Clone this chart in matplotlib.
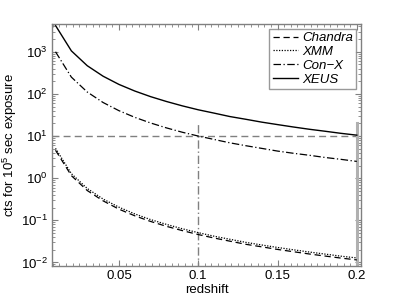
import numpy as np
import matplotlib.pyplot as plt
from matplotlib.ticker import AutoMinorLocator, LogLocator, NullFormatter

plt.rcParams['font.family'] = ['Liberation Sans', 'DejaVu Sans']
plt.rcParams['mathtext.fontset'] = 'custom'
plt.rcParams['mathtext.rm'] = 'Liberation Sans'

# redshift grid and counts
redshift = [0.01, 0.02, 0.03, 0.04, 0.05, 0.06, 0.07, 0.08, 0.09, 0.10,
            0.11, 0.12, 0.13, 0.14, 0.15, 0.16, 0.17, 0.18, 0.19, 0.20]
chandra = [4.6, 1.15, 0.51, 0.29, 0.184, 0.128, 0.094, 0.072, 0.057, 0.046,
           0.038, 0.032, 0.027, 0.0235, 0.0204, 0.018, 0.0159, 0.0142, 0.0127, 0.0115]
xmm = [5.1, 1.28, 0.57, 0.32, 0.205, 0.142, 0.104, 0.080, 0.063, 0.051,
       0.042, 0.0355, 0.030, 0.026, 0.0227, 0.020, 0.0177, 0.0158, 0.0141, 0.0128]
conx = [1000, 250, 111, 62.5, 40, 27.8, 20.4, 15.6, 12.3, 10.0,
        8.3, 6.9, 5.9, 5.1, 4.4, 3.9, 3.5, 3.1, 2.8, 2.5]
xeus = [4200, 1050, 467, 263, 168, 117, 86, 66, 52, 42,
        35, 29, 25, 21.4, 18.7, 16.4, 14.5, 13.0, 11.6, 10.5]

ref_count = 10
ref_z = 0.1
end_z = 0.2
ref_top = 20

fig = plt.figure(figsize=(3.99, 3.0), dpi=100)
ax = fig.add_axes([0.130, 0.113, 0.775, 0.807])

gray = '#808080'
ax.axhline(ref_count, color=gray, lw=1.0, ls=(0, (5, 3)))
ax.plot([ref_z, ref_z], [0.001, ref_top], color=gray, lw=1.0, ls=(0, (6, 2, 1, 2)))
ax.plot([end_z, end_z], [0.001, ref_top], color='#b0b0b0', lw=2.2)

ax.plot(redshift, chandra, color='black', lw=0.9, ls=(0, (5, 3)), label='Chandra')
ax.plot(redshift, xmm, color='black', lw=0.9, ls=(0, (1, 1.2)), label='XMM')
ax.plot(redshift, conx, color='black', lw=0.9, ls=(0, (6, 2, 1, 2)), label='Con\u2212X')
ax.plot(redshift, xeus, color='black', lw=1.0, ls='-', label='XEUS')

ax.set_yscale('log')
ax.set_xlim(0.0077, 0.2027)
ax.set_ylim(0.0082, 4560)
ax.set_xticks([0.05, 0.1, 0.15, 0.2])
ax.set_xticklabels(['0.05', '0.1', '0.15', '0.2'])
ax.xaxis.set_minor_locator(AutoMinorLocator(12))
ax.yaxis.set_major_locator(LogLocator(base=10, numticks=10))
ax.yaxis.set_minor_locator(LogLocator(base=10, subs=np.arange(2, 10), numticks=20))
ax.yaxis.set_minor_formatter(NullFormatter())

for s in ax.spines.values():
    s.set_color(gray)
    s.set_linewidth(1.0)
ax.tick_params(which='both', direction='in', top=True, right=True, color=gray,
               labelsize=9.5, pad=3)
ax.tick_params(which='major', length=4)
ax.tick_params(which='minor', length=2)

ax.set_xlabel('redshift', fontsize=9.5, labelpad=1)
ax.set_ylabel('cts for 10$^5$ sec exposure', fontsize=9.5, labelpad=1)

leg = ax.legend(loc='upper right', frameon=True, fancybox=False,
                borderaxespad=0.35, handlelength=1.9, handletextpad=0.35,
                labelspacing=0.12, borderpad=0.25,
                prop={'style': 'italic', 'size': 9.5})
leg.get_frame().set_edgecolor(gray)
leg.get_frame().set_linewidth(1.0)

fig.savefig('out.png', dpi=100)
